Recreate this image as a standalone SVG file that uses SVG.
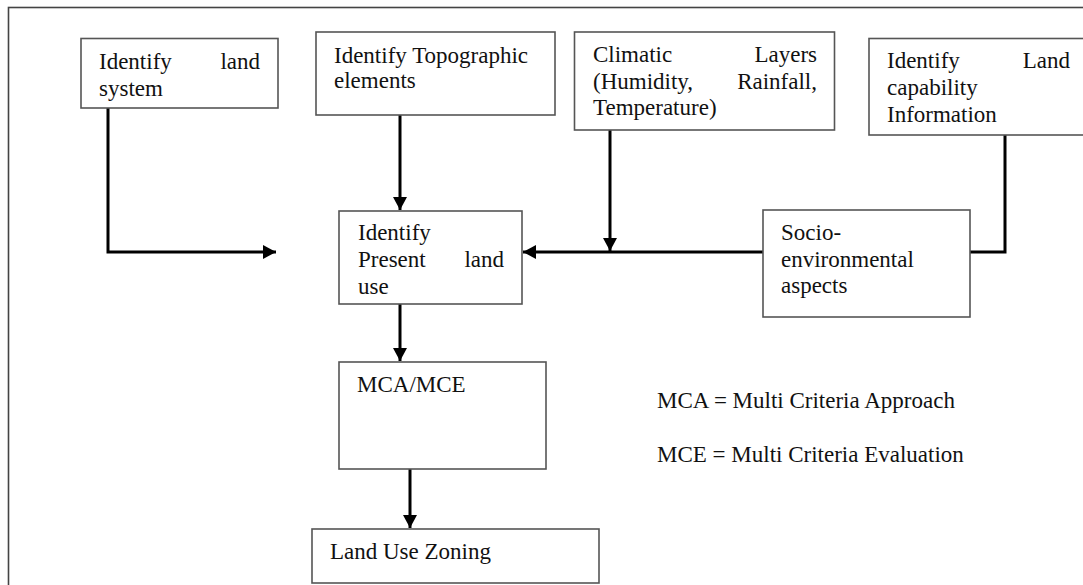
<svg xmlns="http://www.w3.org/2000/svg" width="1083" height="585" viewBox="0 0 1083 585">
<defs>
<marker id="arr" markerUnits="userSpaceOnUse" markerWidth="16" markerHeight="16" refX="13" refY="7" orient="auto">
<path d="M0,0 L13,7 L0,14 z" fill="#000"/>
</marker>
<style>
.box{fill:#fff;stroke:#555;stroke-width:1.6}
.t{font-family:"Liberation Serif","Times New Roman",serif;font-size:23px;fill:#111}
.e{text-anchor:end}
.c{fill:none;stroke:#000;stroke-width:3}
</style>
</defs>
<rect x="0" y="0" width="1083" height="585" fill="#fff"/>
<rect x="8.5" y="7.5" width="1100" height="620" fill="none" stroke="#444" stroke-width="1.6"/>
<g id="connectors">
<path class="c" d="M108,108 V252 H276" marker-end="url(#arr)"/>
<path class="c" d="M400,115 V210" marker-end="url(#arr)"/>
<path class="c" d="M610,130 V251" marker-end="url(#arr)"/>
<path class="c" d="M1005,135 V252 H970"/>
<path class="c" d="M763,252 H523" marker-end="url(#arr)"/>
<path class="c" d="M400,304 V361" marker-end="url(#arr)"/>
<path class="c" d="M410,469 V528" marker-end="url(#arr)"/>
</g>
<g id="n1">
<rect class="box" x="81" y="38.5" width="197" height="69.5"/>
<text class="t" x="99" y="69">Identify</text>
<text class="t e" x="260" y="69">land</text>
<text class="t" x="99" y="96">system</text>
</g>
<g id="n2">
<rect class="box" x="316" y="32" width="239" height="83"/>
<text class="t" x="334" y="63">Identify Topographic</text>
<text class="t" x="334" y="88">elements</text>
</g>
<g id="n3">
<rect class="box" x="574.5" y="32" width="260" height="98"/>
<text class="t" x="593" y="62">Climatic</text>
<text class="t e" x="817" y="62">Layers</text>
<text class="t" x="593" y="89">(Humidity,</text>
<text class="t e" x="817" y="89">Rainfall,</text>
<text class="t" x="593" y="115">Temperature)</text>
</g>
<g id="n4">
<rect class="box" x="869" y="38.5" width="240" height="96.5"/>
<text class="t" x="887" y="68">Identify</text>
<text class="t e" x="1070" y="68">Land</text>
<text class="t" x="887" y="95">capability</text>
<text class="t" x="887" y="122">Information</text>
</g>
<g id="n5">
<rect class="box" x="339" y="211" width="183" height="93"/>
<text class="t" x="358" y="240">Identify</text>
<text class="t" x="358" y="267">Present</text>
<text class="t e" x="504" y="267">land</text>
<text class="t" x="358" y="294">use</text>
</g>
<g id="n6">
<rect class="box" x="763" y="210" width="207" height="107"/>
<text class="t" x="781" y="240">Socio-</text>
<text class="t" x="781" y="267">environmental</text>
<text class="t" x="781" y="293">aspects</text>
</g>
<g id="n7">
<rect class="box" x="339" y="362" width="207" height="107"/>
<text class="t" x="357" y="392">MCA/MCE</text>
</g>
<g id="n8">
<rect class="box" x="312" y="529" width="287" height="54"/>
<text class="t" x="330" y="559">Land Use Zoning</text>
</g>
<g id="legend">
<text class="t" x="657" y="408">MCA = Multi Criteria Approach</text>
<text class="t" x="657" y="462">MCE = Multi Criteria Evaluation</text>
</g>
</svg>
